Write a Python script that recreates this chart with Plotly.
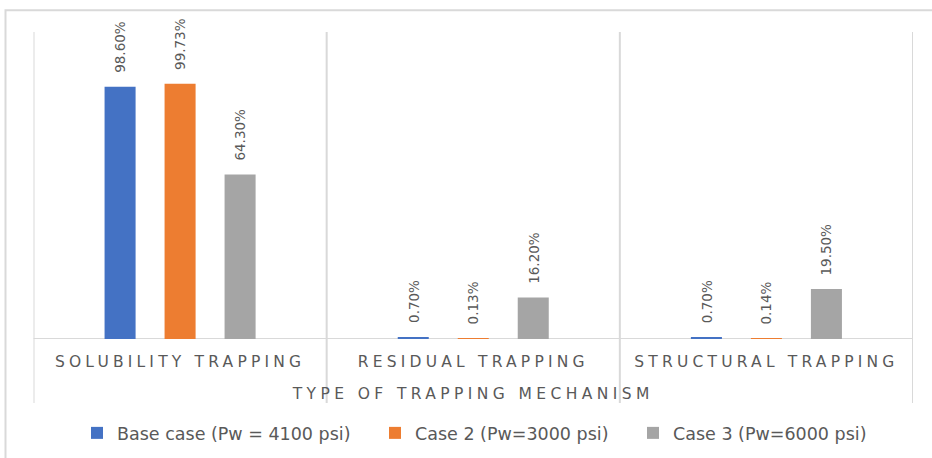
import plotly.graph_objects as go

# ---- data -------------------------------------------------------------
categories = ["SOLUBILITY TRAPPING", "RESIDUAL TRAPPING", "STRUCTURAL TRAPPING"]
series_names = ["Base case (Pw = 4100 psi)", "Case 2 (Pw=3000 psi)", "Case 3 (Pw=6000 psi)"]
base_case = [98.60, 0.70, 0.70]
case_2 = [99.73, 0.13, 0.14]
case_3 = [64.30, 16.20, 19.50]
axis_title = "TYPE OF TRAPPING MECHANISM"

series_values = [base_case, case_2, case_3]
colors = ["#4472C4", "#ED7D31", "#A5A5A5"]

# ---- geometry (pixels) ------------------------------------------------
W, H = 932, 458
plot_left, plot_right = 33.5, 913.0
plot_top, plot_bottom = 32.0, 339.0
divider_bottom = 403.0
bargap = 0.386
bargroupgap = 0.483
label_gap = 12
legend_left_px = [77, 375, 633]
legend_mid_px = 433
grid_color = "#D9D9D9"
text_color = "#595959"
font_family = "DejaVu Sans"


def px_x(px):
    return px / W


def px_y(py):
    return 1 - py / H


legend_ids = ["legend", "legend2", "legend3"]

fig = go.Figure()
for name, vals, col, lid in zip(series_names, series_values, colors, legend_ids):
    fig.add_trace(go.Bar(
        name=name, x=categories, y=vals,
        marker=dict(color=col, line=dict(width=0)),
        legend=lid, showlegend=True, hoverinfo="skip",
    ))

# rotated value labels above each bar
cat_px = (plot_right - plot_left) / len(categories)
slot_px = cat_px * (1 - bargap) / len(series_values)
annotations = []
for i, vals in enumerate(series_values):
    offset = (i - (len(series_values) - 1) / 2) * slot_px
    for cat, v in zip(categories, vals):
        annotations.append(dict(
            x=cat, y=v, xref="x", yref="y",
            text=f"{v:.2f}%", showarrow=False, textangle=-90,
            xanchor="center", yanchor="bottom",
            xshift=offset, yshift=label_gap,
            font=dict(family=font_family, size=13.5, color=text_color),
        ))

shapes = []
# outer chart border
shapes.append(dict(type="rect", xref="paper", yref="paper",
                   x0=px_x(5.5), x1=1.05, y0=-0.05, y1=px_y(10.3),
                   line=dict(color=grid_color, width=2), fillcolor="rgba(0,0,0,0)",
                   layer="below"))
# category dividers
for k in range(len(categories) + 1):
    shapes.append(dict(type="line", xref="x", yref="paper",
                       x0=k - 0.5, x1=k - 0.5,
                       y0=px_y(divider_bottom), y1=px_y(plot_top),
                       line=dict(color=grid_color, width=2), layer="below"))
# baseline
shapes.append(dict(type="line", xref="paper", yref="y",
                   x0=px_x(plot_left), x1=px_x(plot_right), y0=0, y1=0,
                   line=dict(color=grid_color, width=2), layer="below"))

legend_style = dict(
    orientation="h", xanchor="left", yanchor="middle",
    y=px_y(legend_mid_px),
    font=dict(family=font_family, size=17.5, color=text_color),
    bgcolor="rgba(0,0,0,0)", borderwidth=0,
)

fig.update_layout(
    width=W, height=H,
    margin=dict(l=0, r=0, t=0, b=0, autoexpand=False),
    paper_bgcolor="white", plot_bgcolor="white",
    showlegend=True,
    barmode="group", bargap=bargap, bargroupgap=bargroupgap,
    font=dict(family=font_family, color=text_color),
    xaxis=dict(
        domain=[px_x(plot_left), px_x(plot_right)],
        type="category", range=[-0.5, len(categories) - 0.5],
        showgrid=False, zeroline=False, showline=False, ticks="",
        tickfont=dict(family=font_family, size=15.5, color=text_color),
        ticklabelstandoff=11,
        title=dict(text=axis_title, standoff=18,
                   font=dict(family=font_family, size=15.5, color=text_color)),
    ),
    yaxis=dict(
        domain=[px_y(plot_bottom), px_y(plot_top)],
        range=[0, 120], visible=False,
    ),
    legend=dict(x=px_x(legend_left_px[0]), **legend_style),
    legend2=dict(x=px_x(legend_left_px[1]), **legend_style),
    legend3=dict(x=px_x(legend_left_px[2]), **legend_style),
    shapes=shapes,
    annotations=annotations,
)

# spaced capitals for the category axis text
css_js = (
    "var s=document.createElement('style');"
    "s.textContent='.xtick text{letter-spacing:4.2px}.xtitle{letter-spacing:4.4px}';"
    "document.head.appendChild(s);"
)
fig.write_html("out.html", post_script=css_js, config={"displayModeBar": False})
